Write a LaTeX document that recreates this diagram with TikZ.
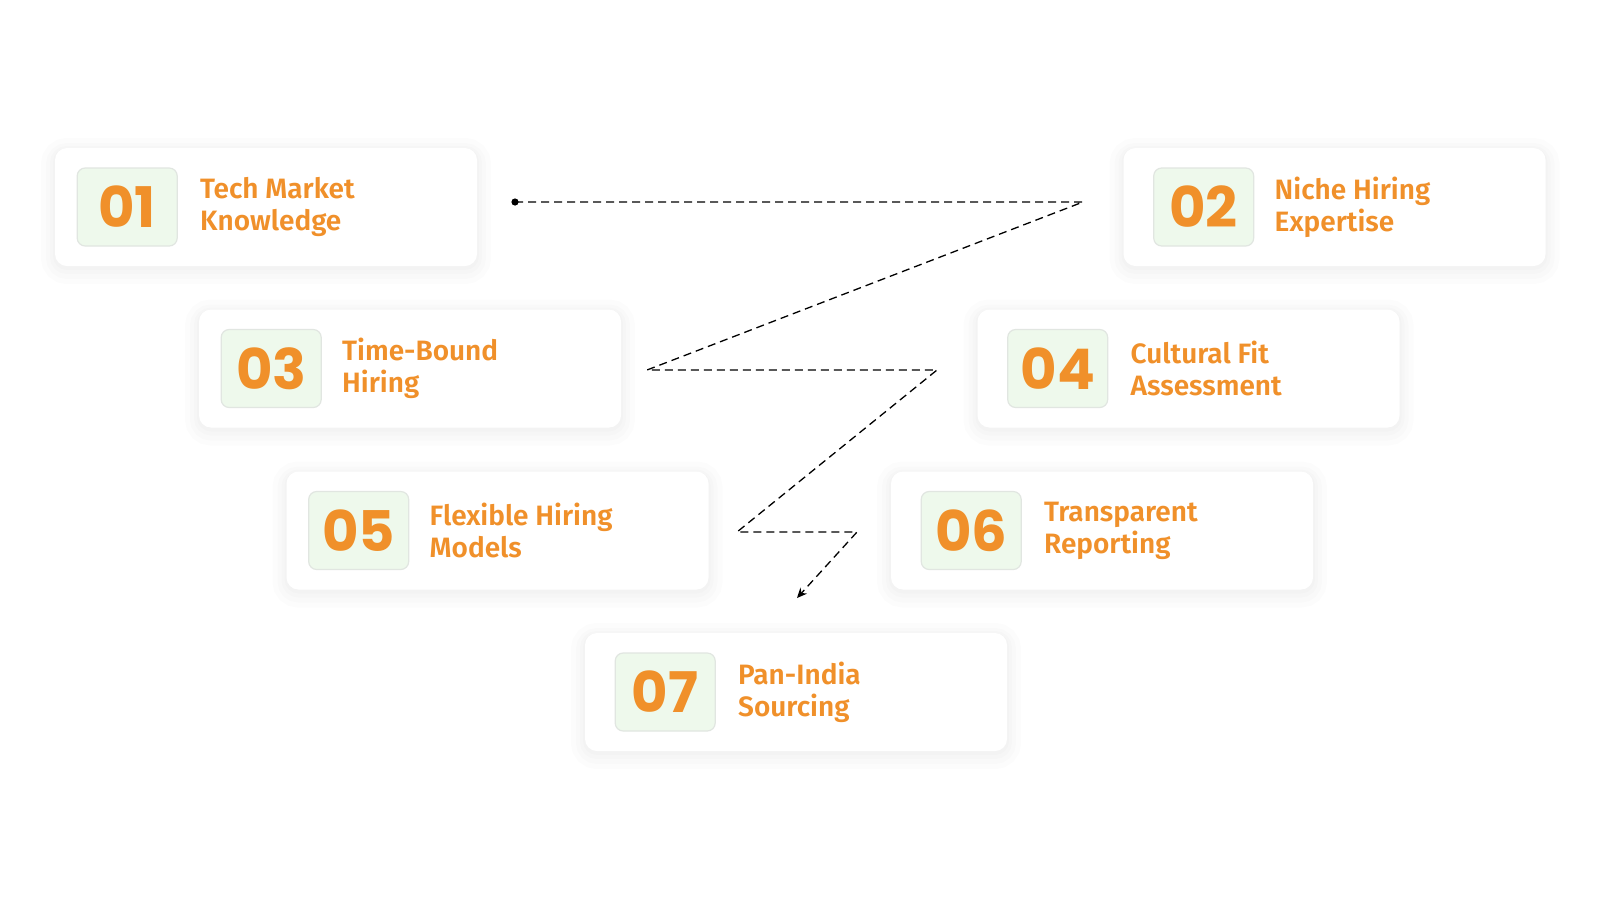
\documentclass[tikz,border=0pt]{standalone}
\usepackage{fontspec}
\usepackage{xcolor}
\usepackage{tikz}
\newfontfamily\numfont{Poppins}
\newfontfamily\cardfont{Fira Sans SemiBold}
\usetikzlibrary{
    positioning,
    shadows,
    calc,
    arrows.meta
}
\definecolor{accent}{HTML}{F0902A}
\definecolor{numfill}{HTML}{EEF9EC}
\definecolor{numline}{HTML}{E1E6E1}
\tikzset{
  glow/.style = {
      preaction={draw=black, opacity=#1, line width=14pt, transform canvas={yshift=-2pt}},
      preaction={draw=black, opacity=#1, line width=9pt, transform canvas={yshift=-2pt}},
      preaction={draw=black, opacity=#1, line width=5pt, transform canvas={yshift=-1.5pt}},
      preaction={draw=black, opacity=#1, line width=2pt, transform canvas={yshift=-1pt}}
  },
  card/.style = {
      rectangle,
      rounded corners=6pt,
      fill=white,
      minimum width=211pt,
      minimum height=59pt,
      glow=0.012
  },
  numbox/.style = {
      rectangle,
      rounded corners=4pt,
      fill=numfill,
      draw=numline,
      line width=0.6pt,
      minimum width=50pt,
      minimum height=39pt,
      inner sep=0pt,
      text=accent,
      font=\numfont\bfseries\fontsize{28}{28}\selectfont
  },
  cardtext/.style = {
      align=left,
      inner sep=0pt,
      text=accent,
      font=\cardfont\fontsize{14}{16}\selectfont
  },
  trail/.style = {
      line width=0.65pt,
      dash pattern=on 4pt off 2.5pt
  }
}
\begin{document}
\begin{tikzpicture}[x=0.5pt, y=-0.5pt]
        \useasboundingbox[fill=white] (0,0) rectangle (1600,900);
        % Cards
        \node[card] (c1) at (266,207) {};
        \node[numbox, right=11pt of c1.west] (n1) {01};
        \node[cardtext, right=11pt of n1] (t1) {Tech Market\\Knowledge};
        \node[card] (c2) at (1334.5,207) {};
        \node[numbox, right=15pt of c2.west] (n2) {02};
        \node[cardtext, right=10pt of n2] (t2) {Niche Hiring\\Expertise};
        \node[card] (c3) at (410,368.5) {};
        \node[numbox, right=11pt of c3.west] (n3) {03};
        \node[cardtext, right=10pt of n3] (t3) {Time-Bound\\Hiring};
        \node[card] (c4) at (1188.5,368.5) {};
        \node[numbox, right=15pt of c4.west] (n4) {04};
        \node[cardtext, right=11pt of n4] (t4) {Cultural Fit\\Assessment};
        \node[card] (c5) at (497.5,530.5) {};
        \node[numbox, right=11pt of c5.west] (n5) {05};
        \node[cardtext, right=10pt of n5] (t5) {Flexible Hiring\\Models};
        \node[card] (c6) at (1102,530.5) {};
        \node[numbox, right=15pt of c6.west] (n6) {06};
        \node[cardtext, right=11pt of n6] (t6) {Transparent\\Reporting};
        \node[card] (c7) at (796,692) {};
        \node[numbox, right=15pt of c7.west] (n7) {07};
        \node[cardtext, right=11pt of n7] (t7) {Pan-India\\Sourcing};
        % Zigzag
        \coordinate (z0) at (515,202);
        \coordinate (z1) at (1083,202);
        \coordinate (z2) at (647,370);
        \coordinate (z3) at (937,370);
        \coordinate (z4) at (737,532);
        \coordinate (z5) at (857,532);
        \coordinate (z6) at (797,598);
        \fill (z0) circle (1.8pt);
        \draw[trail, -{Stealth[length=5pt, width=4.5pt]}] (z0) -- (z1) -- (z2) -- (z3) -- (z4) -- (z5) -- (z6);
    \end{tikzpicture}
\end{document}
